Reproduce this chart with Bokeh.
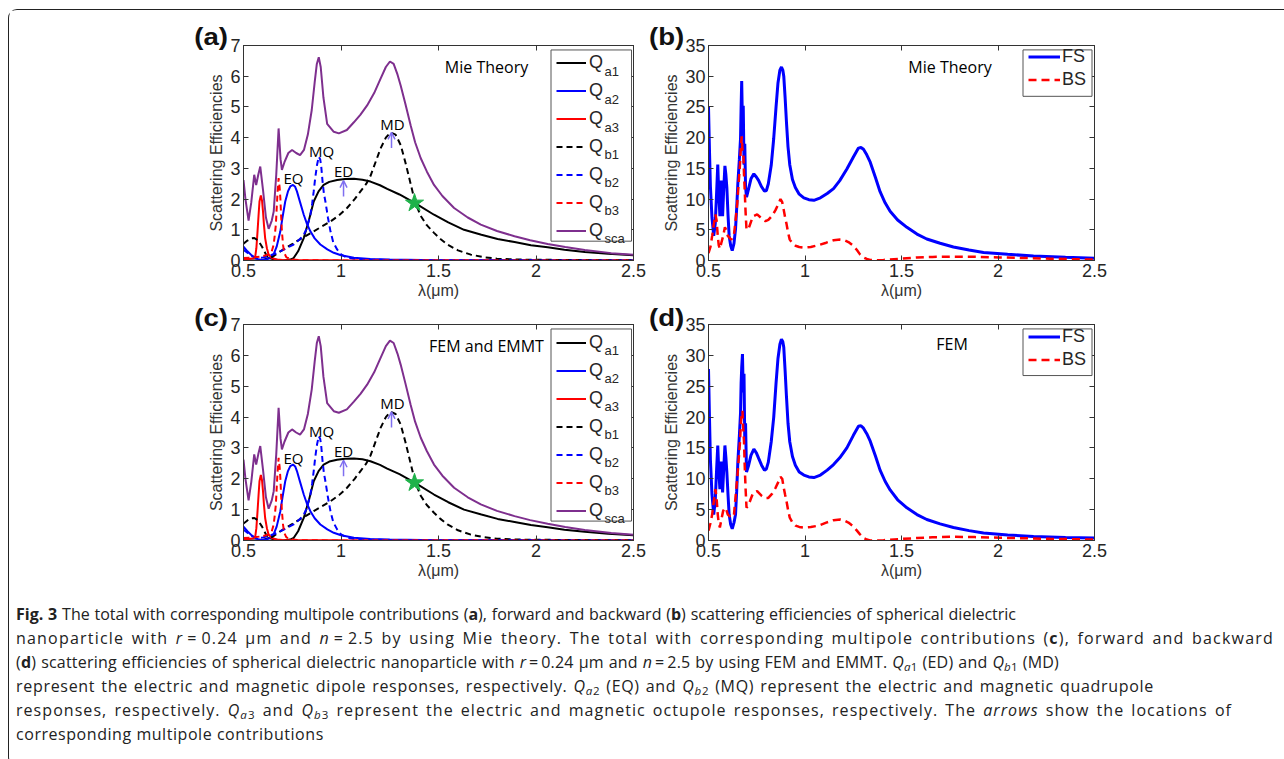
from bokeh.plotting import figure
from bokeh.models import (Range1d, LinearAxis, FixedTicker, NumeralTickFormatter, Legend, LegendItem,
                          BoxAnnotation, Label, Arrow, OpenHead, Div, CustomLabelingPolicy)
from bokeh.layouts import column, row
from bokeh.embed import file_html
from bokeh.resources import INLINE

# ---------------- data ----------------
x_ticks = [0.5, 1, 1.5, 2, 2.5]
y_ticks_q = [0, 1, 2, 3, 4, 5, 6, 7]
y_ticks_fb = [0, 5, 10, 15, 20, 25, 30, 35]

qsca_x = [0.5, 0.51, 0.526, 0.54, 0.555, 0.565, 0.576, 0.586, 0.60, 0.615, 0.629, 0.645, 0.655, 0.668, 0.68,
          0.69, 0.697, 0.71, 0.73, 0.749, 0.77, 0.79, 0.81, 0.83, 0.85, 0.865, 0.876, 0.886, 0.896, 0.91, 0.929,
          0.963, 0.989, 1.03, 1.066, 1.10, 1.134, 1.17, 1.203, 1.23, 1.251, 1.27, 1.29, 1.306, 1.33, 1.357,
          1.38, 1.409, 1.44, 1.477, 1.52, 1.58, 1.65, 1.717, 1.80, 1.89, 1.97, 2.06, 2.15, 2.25, 2.386, 2.5]
qsca_y = [2.62, 2.0, 1.3, 1.9, 2.79, 2.46, 2.8, 3.06, 2.3, 1.4, 1.03, 1.3, 1.6, 2.8, 4.3,
          3.3, 2.95, 3.2, 3.5, 3.6, 3.5, 3.43, 3.6, 4.1, 4.9, 5.8, 6.4, 6.62, 6.3, 5.3, 4.45,
          4.19, 4.14, 4.25, 4.5, 4.75, 5.05, 5.45, 5.92, 6.3, 6.48, 6.4, 6.05, 5.7, 5.1, 4.4,
          3.85, 3.33, 2.9, 2.46, 2.1, 1.71, 1.4, 1.17, 0.96, 0.79, 0.66, 0.54, 0.44, 0.34, 0.24, 0.19]

qa1_x = [0.5, 0.56, 0.6, 0.63, 0.66, 0.7, 0.74, 0.757, 0.78, 0.809, 0.835, 0.86, 0.885, 0.911, 0.94, 0.98,
         1.02, 1.066, 1.11, 1.151, 1.2, 1.237, 1.3, 1.38, 1.477, 1.55, 1.631, 1.72, 1.803, 1.89, 1.974, 2.06,
         2.146, 2.25, 2.37, 2.5]
qa1_y = [0.0, 0.0, 0.02, 0.08, 0.03, 0.0, 0.03, 0.08, 0.3, 0.73, 1.3, 1.92, 2.25, 2.46, 2.56, 2.62,
         2.65, 2.66, 2.63, 2.57, 2.45, 2.33, 2.15, 1.87, 1.49, 1.24, 1.0, 0.84, 0.7, 0.6, 0.5, 0.43,
         0.35, 0.28, 0.22, 0.17]

qb1_x = [0.5, 0.52, 0.54, 0.556, 0.575, 0.595, 0.615, 0.63, 0.65, 0.689, 0.73, 0.774, 0.82, 0.86, 0.9, 0.946,
         0.99, 1.031, 1.07, 1.1, 1.13, 1.151, 1.18, 1.203, 1.23, 1.254, 1.28, 1.306, 1.33, 1.357, 1.38, 1.409,
         1.44, 1.477, 1.51, 1.546, 1.6, 1.666, 1.73, 1.8, 1.9, 2.1, 2.3, 2.5]
qb1_y = [0.55, 0.65, 0.72, 0.73, 0.65, 0.45, 0.2, 0.08, 0.12, 0.3, 0.46, 0.63, 0.8, 0.95, 1.1, 1.27,
         1.47, 1.71, 2.0, 2.25, 2.5, 2.75, 3.25, 3.65, 4.0, 4.17, 4.1, 3.76, 3.2, 2.5, 1.9, 1.45,
         1.15, 0.9, 0.7, 0.52, 0.33, 0.19, 0.11, 0.06, 0.03, 0.02, 0.01, 0.01]

qa2_x = [0.5, 0.52, 0.54, 0.56, 0.58, 0.6, 0.62, 0.64, 0.654, 0.67, 0.689, 0.70, 0.714, 0.728, 0.74, 0.754,
         0.765, 0.774, 0.79, 0.809, 0.825, 0.843, 0.865, 0.894, 0.93, 0.963, 1.0, 1.066, 1.15, 1.25, 1.5, 2.0, 2.5]
qa2_y = [0.45, 0.3, 0.18, 0.08, 0.03, 0.02, 0.04, 0.1, 0.19, 0.45, 0.95, 1.4, 1.92, 2.25, 2.41, 2.46,
         2.4, 2.25, 1.9, 1.49, 1.2, 0.95, 0.72, 0.52, 0.36, 0.25, 0.17, 0.09, 0.05, 0.03, 0.01, 0.005, 0.003]

qb2_x = [0.5, 0.52, 0.54, 0.56, 0.58, 0.6, 0.63, 0.66, 0.689, 0.72, 0.757, 0.79, 0.809, 0.825, 0.843, 0.852,
         0.86, 0.868, 0.877, 0.886, 0.893, 0.898, 0.905, 0.912, 0.92, 0.933, 0.946, 0.96, 0.98, 1.0, 1.031,
         1.1, 1.3, 2.5]
qb2_y = [0.35, 0.25, 0.15, 0.1, 0.08, 0.1, 0.15, 0.22, 0.3, 0.4, 0.52, 0.7, 0.84, 1.05, 1.49, 1.85,
         2.25, 2.7, 3.11, 3.38, 3.3, 3.11, 2.6, 2.2, 1.92, 1.4, 0.95, 0.6, 0.36, 0.2, 0.09,
         0.03, 0.01, 0.0]

qa3_x = [0.5, 0.53, 0.55, 0.56, 0.566, 0.572, 0.577, 0.582, 0.589, 0.595, 0.6, 0.605, 0.611, 0.62, 0.629,
         0.645, 0.67, 0.7, 0.8, 1.0, 1.5, 2.0, 2.5]
qa3_y = [0.05, 0.05, 0.07, 0.12, 0.4, 0.95, 1.45, 1.92, 2.12, 1.95, 1.6, 1.15, 0.73, 0.4, 0.19,
         0.08, 0.03, 0.02, 0.01, 0.005, 0.0, 0.0, 0.0]

qb3_x = [0.5, 0.55, 0.6, 0.63, 0.645, 0.654, 0.66, 0.666, 0.671, 0.675, 0.68, 0.685, 0.689, 0.693, 0.697,
         0.703, 0.709, 0.72, 0.75, 0.8, 1.0, 1.5, 2.0, 2.5]
qb3_y = [0.08, 0.1, 0.14, 0.2, 0.3, 0.5, 0.8, 1.17, 1.8, 2.25, 2.68, 2.4, 2.03, 1.45, 0.95,
         0.5, 0.25, 0.1, 0.03, 0.01, 0.0, 0.0, 0.0, 0.0]

star_x = [1.377]
star_y = [1.87]

fs_x = [0.5, 0.505, 0.51, 0.518, 0.527, 0.535, 0.542, 0.548, 0.553, 0.559, 0.563, 0.566, 0.57, 0.573, 0.578,
        0.585, 0.59, 0.595, 0.601, 0.607, 0.615, 0.623, 0.632, 0.64, 0.646, 0.652, 0.66, 0.666, 0.669, 0.672,
        0.676, 0.68, 0.684, 0.688, 0.692, 0.697, 0.708, 0.72, 0.735, 0.748, 0.76, 0.775, 0.79, 0.8, 0.81,
        0.825, 0.838, 0.85, 0.86, 0.87, 0.878, 0.885, 0.89, 0.897, 0.904, 0.912, 0.921, 0.935, 0.95, 0.97,
        0.994, 1.02, 1.046, 1.08, 1.115, 1.148, 1.18, 1.217, 1.25, 1.277, 1.29, 1.303, 1.32, 1.338, 1.365,
        1.389, 1.415, 1.441, 1.48, 1.528, 1.58, 1.631, 1.7, 1.769, 1.85, 1.925, 2.05, 2.184, 2.35, 2.5]
fs_mie = [25.0, 18.0, 12.0, 7.0, 4.0, 6.0, 11.0, 15.6, 11.0, 7.2, 10.0, 13.0, 10.0, 7.2, 11.0,
          15.4, 14.0, 11.9, 7.5, 4.0, 2.4, 1.6, 2.8, 5.1, 8.5, 12.5, 16.5, 19.9, 25.0, 29.2,
          22.0, 25.2, 15.6, 19.0, 12.0, 10.3, 11.7, 13.3, 14.1, 13.6, 13.0, 12.0, 11.3, 11.4, 12.5,
          15.5, 19.9, 25.0, 28.9, 31.0, 31.5, 31.0, 30.0, 26.5, 22.5, 18.5, 15.6, 13.2, 11.9, 10.8,
          10.2, 9.9, 9.8, 10.2, 10.9, 11.7, 13.0, 14.9, 16.8, 18.3, 18.4, 18.1, 17.2, 16.0, 13.5,
          11.2, 9.4, 8.0, 6.6, 5.4, 4.3, 3.5, 2.8, 2.2, 1.7, 1.3, 1.0, 0.74, 0.52, 0.37]
fs_fem = [27.8, 20.0, 13.0, 7.5, 4.2, 6.5, 11.5, 15.4, 11.5, 8.3, 10.5, 12.8, 10.2, 7.8, 11.0,
          15.4, 13.5, 11.1, 7.5, 4.2, 2.6, 1.9, 2.9, 4.2, 8.0, 12.7, 17.0, 20.7, 25.5, 28.0,
          30.2, 24.0, 27.0, 16.0, 19.0, 11.1, 12.2, 13.8, 14.8, 14.2, 13.3, 12.2, 11.4, 11.6, 12.7,
          16.0, 20.0, 25.5, 29.5, 31.8, 32.6, 32.2, 31.3, 27.5, 23.3, 19.0, 16.0, 13.6, 12.2, 11.1,
          10.6, 10.3, 10.2, 10.6, 11.4, 12.3, 13.4, 15.0, 17.0, 18.5, 18.6, 18.2, 17.3, 16.1, 13.7,
          11.4, 9.6, 8.2, 6.6, 5.3, 4.2, 3.4, 2.7, 2.1, 1.6, 1.2, 0.9, 0.64, 0.5, 0.4]

bs_x = [0.5, 0.51, 0.519, 0.528, 0.536, 0.542, 0.548, 0.553, 0.559, 0.566, 0.576, 0.585, 0.592, 0.6, 0.618,
        0.632, 0.64, 0.649, 0.656, 0.663, 0.668, 0.672, 0.676, 0.68, 0.684, 0.687, 0.692, 0.697, 0.708, 0.72,
        0.731, 0.752, 0.777, 0.795, 0.81, 0.83, 0.847, 0.862, 0.873, 0.882, 0.89, 0.897, 0.904, 0.912, 0.921,
        0.935, 0.951, 0.97, 0.994, 1.03, 1.07, 1.11, 1.148, 1.182, 1.205, 1.225, 1.25, 1.269, 1.285, 1.303,
        1.32, 1.338, 1.37, 1.407, 1.5, 1.58, 1.66, 1.752, 1.88, 2.01, 2.14, 2.27, 2.4, 2.5]
bs_mie = [1.2, 2.2, 4.0, 6.0, 7.5, 6.5, 4.0, 2.5, 1.9, 2.8, 4.0, 5.4, 5.0, 4.0, 3.4,
          4.2, 6.5, 9.3, 12.5, 15.6, 18.5, 20.2, 18.0, 17.8, 14.0, 11.9, 8.0, 5.0, 5.2, 6.3,
          7.2, 7.5, 6.8, 6.4, 6.6, 7.3, 8.2, 9.2, 10.0, 9.5, 8.2, 7.0, 6.0, 4.6, 3.4,
          2.8, 2.4, 2.2, 2.1, 2.2, 2.5, 2.9, 3.3, 3.4, 3.3, 3.0, 2.4, 1.7, 1.0, 0.5,
          0.25, 0.1, 0.05, 0.1, 0.3, 0.5, 0.58, 0.63, 0.6, 0.5, 0.4, 0.3, 0.2, 0.15]
bs_fem = [1.6, 2.8, 4.2, 6.5, 8.3, 6.8, 4.2, 2.8, 2.1, 3.3, 4.8, 5.3, 5.0, 4.2, 3.7,
          4.2, 7.0, 10.1, 13.0, 15.9, 19.0, 20.4, 21.0, 18.1, 16.0, 12.7, 8.5, 5.3, 5.8, 6.8,
          7.7, 8.0, 7.2, 6.9, 6.9, 7.6, 8.5, 9.5, 10.3, 10.0, 8.5, 7.4, 6.4, 5.0, 3.7,
          2.9, 2.4, 2.2, 2.1, 2.2, 2.4, 2.9, 3.3, 3.4, 3.2, 2.9, 2.3, 1.6, 1.0, 0.4,
          0.15, 0.02, 0.0, 0.05, 0.25, 0.4, 0.52, 0.6, 0.55, 0.45, 0.36, 0.27, 0.2, 0.15]

q_labels = ["a1", "a2", "a3", "b1", "b2", "b3", "sca"]
panel_tags = ["(a)", "(b)", "(c)", "(d)"]

# ---------------- styling helpers ----------------
TF = "Liberation Sans"
AX = "#333333"
TXT = "#262626"
PURPLE = "#7e2f8e"
ARROW = "#7f6ff0"
NO_LABELS = CustomLabelingPolicy(code="return []")


def base_panel(width, height, bl, br, bt, bb, ymax, yticks):
    p = figure(width=width, height=height, x_range=Range1d(0.5, 2.5), y_range=Range1d(0, ymax),
               output_backend="svg", toolbar_location=None,
               min_border_left=bl, min_border_right=br, min_border_top=bt, min_border_bottom=bb,
               x_axis_label="λ(μm)", y_axis_label="Scattering Efficiencies")
    p.xgrid.visible = False
    p.ygrid.visible = False
    p.outline_line_color = AX
    p.outline_line_alpha = 1
    p.outline_line_width = 1
    for ax, tk in ((p.xaxis[0], x_ticks), (p.yaxis[0], yticks)):
        ax.ticker = FixedTicker(ticks=tk)
        ax.formatter = NumeralTickFormatter(format="0.[0]")
        ax.major_tick_in = 5
        ax.major_tick_out = 0
        ax.minor_tick_line_color = None
        ax.axis_line_color = AX
        ax.major_tick_line_color = AX
        ax.major_label_text_font = TF
        ax.major_label_text_font_size = "18px"
        ax.major_label_text_color = TXT
        ax.major_label_standoff = 3
        ax.axis_label_text_font = TF
        ax.axis_label_text_font_size = "16px"
        ax.axis_label_text_font_style = "normal"
        ax.axis_label_text_color = "#333333"
        ax.axis_label_standoff = 2
    for loc, tk in (("above", x_ticks), ("right", yticks)):
        ax = LinearAxis(ticker=FixedTicker(ticks=tk), major_label_policy=NO_LABELS,
                        major_label_text_font_size="1px", major_label_standoff=0,
                        major_tick_in=5, major_tick_out=0,
                        minor_tick_line_color=None, axis_line_color=AX, major_tick_line_color=AX)
        p.add_layout(ax, loc)
    return p


def multipole_panel(width, height, bl, br, bt, bb, method):
    fw, fh = width - bl - br, height - bt - bb
    p = base_panel(width, height, bl, br, bt, bb, 7, y_ticks_q)
    fx = lambda off: 0.5 + off * 2.0 / fw
    fy = lambda off: off * 7.0 / fh
    r_a1 = p.line(qa1_x, qa1_y, line_color="black", line_width=2)
    r_a2 = p.line(qa2_x, qa2_y, line_color="#0000ff", line_width=2)
    r_a3 = p.line(qa3_x, qa3_y, line_color="#ff0000", line_width=2)
    r_b1 = p.line(qb1_x, qb1_y, line_color="black", line_width=2, line_dash="6 4")
    r_b2 = p.line(qb2_x, qb2_y, line_color="#0000ff", line_width=2, line_dash="6 4")
    r_b3 = p.line(qb3_x, qb3_y, line_color="#ff0000", line_width=2, line_dash="6 4")
    r_sca = p.line(qsca_x, qsca_y, line_color=PURPLE, line_width=2)
    p.scatter(star_x, star_y, marker="star", size=19, fill_color="#1fb24a", line_color="#1fb24a")
    for t, xx, yy in (("EQ", 0.756, 2.68), ("MQ", 0.9, 3.55), ("ED", 1.013, 2.9), ("MD", 1.264, 4.45)):
        p.add_layout(Label(x=xx, y=yy, text=t, text_font="Open Sans", text_font_size="15px",
                           text_color="black", text_align="center", text_baseline="middle"))
    for xx, y0, y1 in ((1.013, 2.08, 2.6), (1.259, 3.66, 4.17)):
        p.add_layout(Arrow(end=OpenHead(size=7, line_color=ARROW, line_width=1.5),
                           x_start=xx, y_start=y0, x_end=xx, y_end=y1,
                           line_color=ARROW, line_width=1.5))
    p.add_layout(Label(x=fx(243), y=fy(195), text=method, text_font="Open Sans", text_font_size="16px",
                       text_color="black", text_align="center", text_baseline="middle"))
    p.add_layout(BoxAnnotation(left=fx(307.5), right=fx(388), bottom=fy(19.5), top=fy(212.5),
                               fill_color="white", fill_alpha=1, line_color="#555555", line_width=1,
                               line_alpha=1))
    rends = [r_a1, r_a2, r_a3, r_b1, r_b2, r_b3, r_sca]
    leg = Legend(items=[LegendItem(label="Q", renderers=[r]) for r in rends],
                 location=(313, 19), padding=0, margin=0, spacing=7, glyph_width=30, glyph_height=21,
                 label_height=21, label_width=30, label_standoff=3, border_line_color=None,
                 background_fill_alpha=0, label_text_font=TF, label_text_font_size="18px",
                 label_text_color=TXT)
    p.add_layout(leg)
    for i, s in enumerate(q_labels):
        yoff = 19 + 10.5 + (6 - i) * 28 - 7
        p.add_layout(Label(x=fx(361), y=fy(yoff), text=s, text_font=TF, text_font_size="13px",
                           text_color=TXT, text_align="left", text_baseline="middle"))
    return p


def fb_panel(width, height, bl, br, bt, bb, fs, bs, method, method_off):
    fw, fh = width - bl - br, height - bt - bb
    p = base_panel(width, height, bl, br, bt, bb, 35, y_ticks_fb)
    fx = lambda off: 0.5 + off * 2.0 / fw
    fy = lambda off: off * 35.0 / fh
    r_fs = p.line(fs_x, fs, line_color="#0000ff", line_width=3)
    r_bs = p.line(bs_x, bs, line_color="#ff0000", line_width=2.5, line_dash="8 5")
    p.add_layout(Label(x=fx(method_off[0]), y=fy(method_off[1]), text=method, text_font="Open Sans",
                       text_font_size="16px", text_color="black", text_align="center",
                       text_baseline="middle"))
    p.add_layout(BoxAnnotation(left=fx(314.5), right=fx(383.5), bottom=fy(168), top=fy(215.5),
                               fill_color="white", fill_alpha=1, line_color="#555555", line_width=1,
                               line_alpha=1))
    leg = Legend(items=[LegendItem(label="FS", renderers=[r_fs]), LegendItem(label="BS", renderers=[r_bs])],
                 location=(320, 170), padding=0, margin=0, spacing=2, glyph_width=32, glyph_height=21,
                 label_height=21, label_standoff=2, border_line_color=None, background_fill_alpha=0,
                 label_text_font=TF, label_text_font_size="18px", label_text_color=TXT)
    p.add_layout(leg)
    return p


fa = multipole_panel(641, 291, 234, 17, 35, 39, "Mie Theory")
fb = fb_panel(633, 291, 58, 189, 35, 36, fs_mie, bs_mie, "Mie Theory", (241.5, 198.5))
fc = multipole_panel(641, 288, 234, 17, 23, 48, "FEM and EMMT")
fd = fb_panel(633, 288, 58, 189, 19, 49, fs_fem, bs_fem, "FEM", (243.5, 200.5))

# panel letters: HTML overlay positioned over the figure grid
tag_pos = [(197.5, 23.5), (653.0, 23.5), (197.5, 304.5), (653.0, 304.5)]
tag_html = "".join(
    "<div style=\"position:absolute;left:%.1fpx;top:%.1fpx;width:50px;height:30px;line-height:30px;"
    "text-align:center;font:bold 23px 'Liberation Sans',sans-serif;color:#111\">"
    "<span style='display:inline-block;transform:scaleX(1.2)'>%s</span></div>" % (cx - 25, cy - 15, t)
    for (cx, cy), t in zip(tag_pos, panel_tags))
tags = Div(text=tag_html, width=700, height=330,
           styles={"position": "absolute", "left": "0px", "top": "0px", "pointer-events": "none"})


def sub(letter, num):
    return ("<i>Q</i><span style='font-size:0.72em;vertical-align:-0.3em;line-height:0'>"
            "<i>%s</i>%s</span>" % (letter, num))


caption_lines = [
    (1000, 0.0, "<b>Fig. 3</b> The total with corresponding multipole contributions (<b>a</b>), forward and "
                "backward (<b>b</b>) scattering efficiencies of spherical dielectric"),
    (1258, 1.2, "nanoparticle with <i>r</i>&thinsp;=&thinsp;0.24 μm and <i>n</i>&thinsp;=&thinsp;2.5 by using "
                "Mie theory. The total with corresponding multipole contributions (<b>c</b>), forward and "
                "backward"),
    (1043, 0.2, "(<b>d</b>) scattering efficiencies of spherical dielectric nanoparticle with "
                "<i>r</i>&thinsp;=&thinsp;0.24 μm and <i>n</i>&thinsp;=&thinsp;2.5 by using FEM and EMMT. "
                + sub("a", "1") + " (ED) and " + sub("b", "1") + " (MD)"),
    (1138, 0.7, "represent the electric and magnetic dipole responses, respectively. " + sub("a", "2")
                + " (EQ) and " + sub("b", "2") + " (MQ) represent the electric and magnetic quadrupole"),
    (1216, 1.05, "responses, respectively. " + sub("a", "3") + " and " + sub("b", "3")
                 + " represent the electric and magnetic octupole responses, respectively. The "
                   "<i>arrows</i> show the locations of"),
    (None, 0.55, "corresponding multipole contributions"),
]
parts = []
for w, ls, html in caption_lines:
    if w is None:
        parts.append("<div style='white-space:nowrap;letter-spacing:%.2fpx'>%s</div>" % (ls, html))
    else:
        parts.append("<div style='width:%dpx;white-space:nowrap;letter-spacing:%.2fpx;text-align:justify;"
                     "text-align-last:justify'>%s</div>" % (w, ls, html))
caption = Div(text="".join(parts), width=1266, height=166,
              styles={"font-family": "'Open Sans', sans-serif", "font-size": "16px", "line-height": "24px",
                      "color": "#222222", "padding-top": "8px", "padding-left": "2px"})

layout = column(row(fa, fb), row(fc, fd), caption, tags,
                styles={"border-left": "1.5px solid #222222", "border-top": "1.5px solid #222222",
                        "border-bottom": "1.5px solid #222222", "border-radius": "9px 0 0 9px",
                        "margin-left": "8px", "margin-top": "9px", "position": "relative"})

open("out.html", "w").write(file_html(layout, INLINE))
